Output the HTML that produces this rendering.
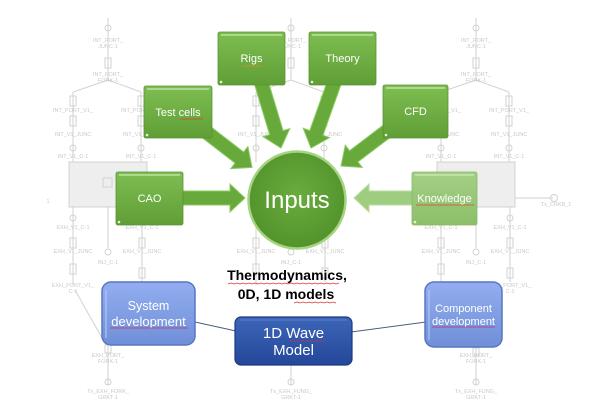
<!DOCTYPE html>
<html><head><meta charset="utf-8">
<style>
html,body{margin:0;padding:0;background:#fff;}
body{width:603px;height:413px;overflow:hidden;}
svg{display:block;}
.sch text{font-family:"Liberation Sans",sans-serif;font-size:5.5px;fill:#c9c9c9;text-anchor:middle;}
.lbl{font-family:"Liberation Sans",sans-serif;fill:#fff;text-anchor:middle;}
</style></head>
<body>
<svg width="603" height="413" viewBox="0 0 603 413" xmlns="http://www.w3.org/2000/svg">
<defs>
 <linearGradient id="gG" x1="0" y1="0" x2="0" y2="1">
  <stop offset="0" stop-color="#7dbd52"/><stop offset="1" stop-color="#5f9f35"/>
 </linearGradient>
 <linearGradient id="gK" x1="0" y1="0" x2="0" y2="1">
  <stop offset="0" stop-color="#a4cf86"/><stop offset="1" stop-color="#8cbf6a"/>
 </linearGradient>
 <linearGradient id="gB" x1="0" y1="0" x2="0" y2="1">
  <stop offset="0" stop-color="#93aef0"/><stop offset="1" stop-color="#6f8fd8"/>
 </linearGradient>
 <linearGradient id="gD" x1="0" y1="0" x2="0" y2="1">
  <stop offset="0" stop-color="#3d66b8"/><stop offset="1" stop-color="#24479a"/>
 </linearGradient>
 <radialGradient id="gC" cx="0.5" cy="0.45" r="0.55">
  <stop offset="0" stop-color="#6aac3e"/><stop offset="1" stop-color="#53922c"/>
 </radialGradient>
</defs>

<!-- background schematic: left -->
<g class="sch">
 <g stroke="#d2d2d2" fill="none" stroke-width="1">
  <line x1="108" y1="18" x2="108" y2="80"/>
  <circle cx="108" cy="28" r="3"/>
  <rect x="105" y="58" width="6" height="10"/>
  <polyline points="73,92 108,80 141,92"/>
  <line x1="73" y1="92" x2="73" y2="162"/>
  <line x1="141" y1="92" x2="141" y2="162"/>
  <rect x="70" y="96" width="6" height="10"/><rect x="70" y="116" width="6" height="10"/><circle cx="73" cy="148" r="3"/>
  <rect x="138" y="96" width="6" height="10"/><rect x="138" y="116" width="6" height="10"/><circle cx="141" cy="148" r="3"/>
  <rect x="69" y="162" width="78" height="45" fill="#eeeeee"/>
  <rect x="103" y="178" width="9" height="9"/>
  <line x1="73" y1="207" x2="73" y2="285"/>
  <circle cx="73" cy="218" r="3"/><rect x="70" y="238" width="6" height="10"/><rect x="70" y="264" width="6" height="10"/>
  <line x1="108" y1="207" x2="108" y2="248"/><circle cx="108" cy="252" r="3"/>
  <line x1="142" y1="207" x2="142" y2="282"/>
  <circle cx="142" cy="218" r="3"/><rect x="139" y="238" width="6" height="10"/><rect x="139" y="268" width="6" height="10"/>
  <line x1="75" y1="290" x2="106" y2="345"/>
  <line x1="142" y1="282" x2="110" y2="345"/>
  <line x1="108" y1="345" x2="108" y2="385"/>
  <rect x="105" y="345" width="6" height="8"/><circle cx="108" cy="382" r="3"/>
 </g>
 <text x="108" y="42">INT_PORT_</text><text x="108" y="48">JUNC-1</text>
 <text x="108" y="76">INT_PORT_</text><text x="108" y="82">FORK-1</text>
 <text x="73" y="112">INT_PORT_V1_</text><text x="141" y="112">INT_PORT_V1_</text>
 <text x="73" y="136">INT_V1_JUNC</text><text x="141" y="136">INT_V1_JUNC</text>
 <text x="73" y="158">INT_V1_C-1</text><text x="141" y="158">INT_V1_C-1</text>
 <text x="73" y="229">EXH_V1_C-1</text><text x="142" y="229">EXH_V1_C-1</text>
 <text x="73" y="253">EXH_V1_JUNC</text><text x="142" y="253">EXH_V1_JUNC</text>
 <text x="108" y="264">INJ_C-1</text>
 <text x="73" y="287">EXH_PORT_V1_</text><text x="73" y="293">C-1</text>
 <text x="108" y="357">EXH_PORT_</text><text x="108" y="363">FORK-1</text>
 <text x="108" y="393">Tx_EXH_FORK_</text><text x="108" y="399">GRKT-1</text>
 <text x="48" y="203">1</text>
</g>

<!-- background schematic: middle -->
<g class="sch" transform="translate(183,0)">
 <g stroke="#d2d2d2" fill="none" stroke-width="1">
  <line x1="108" y1="18" x2="108" y2="80"/>
  <circle cx="108" cy="28" r="3"/>
  <rect x="105" y="58" width="6" height="10"/>
  <polyline points="73,92 108,80 141,92"/>
  <line x1="73" y1="92" x2="73" y2="162"/>
  <line x1="141" y1="92" x2="141" y2="162"/>
  <rect x="70" y="96" width="6" height="10"/><rect x="70" y="116" width="6" height="10"/><circle cx="73" cy="148" r="3"/>
  <rect x="138" y="96" width="6" height="10"/><rect x="138" y="116" width="6" height="10"/><circle cx="141" cy="148" r="3"/>
  <line x1="73" y1="207" x2="73" y2="285"/>
  <circle cx="73" cy="218" r="3"/><rect x="70" y="238" width="6" height="10"/><rect x="70" y="264" width="6" height="10"/>
  <line x1="108" y1="207" x2="108" y2="248"/><circle cx="108" cy="252" r="3"/>
  <line x1="142" y1="207" x2="142" y2="282"/>
  <circle cx="142" cy="218" r="3"/><rect x="139" y="238" width="6" height="10"/><rect x="139" y="268" width="6" height="10"/>
  <line x1="108" y1="345" x2="108" y2="385"/>
  <circle cx="108" cy="382" r="3"/>
 </g>
 <text x="108" y="42">INT_PORT_</text><text x="108" y="48">JUNC-1</text>
 <text x="73" y="136">INT_V1_JUNC</text><text x="141" y="136">INT_V1_JUNC</text>
 <text x="73" y="253">EXH_V1_JUNC</text><text x="142" y="253">EXH_V1_JUNC</text>
 <text x="108" y="264">INJ_C-1</text>
 <text x="108" y="393">Tx_EXH_FUNG_</text><text x="108" y="399">GRKT-1</text>
</g>

<!-- background schematic: right -->
<g class="sch" transform="translate(368,0)">
 <g stroke="#d2d2d2" fill="none" stroke-width="1">
  <line x1="108" y1="18" x2="108" y2="80"/>
  <circle cx="108" cy="28" r="3"/>
  <rect x="105" y="58" width="6" height="10"/>
  <polyline points="73,92 108,80 141,92"/>
  <line x1="73" y1="92" x2="73" y2="162"/>
  <line x1="141" y1="92" x2="141" y2="162"/>
  <rect x="70" y="96" width="6" height="10"/><rect x="70" y="116" width="6" height="10"/><circle cx="73" cy="148" r="3"/>
  <rect x="138" y="96" width="6" height="10"/><rect x="138" y="116" width="6" height="10"/><circle cx="141" cy="148" r="3"/>
  <rect x="69" y="162" width="78" height="45" fill="#eeeeee"/>
  <line x1="147" y1="198" x2="185" y2="198"/><circle cx="186" cy="198" r="3.5"/>
  <line x1="73" y1="207" x2="73" y2="285"/>
  <circle cx="73" cy="218" r="3"/><rect x="70" y="238" width="6" height="10"/><rect x="70" y="264" width="6" height="10"/>
  <line x1="108" y1="207" x2="108" y2="248"/><circle cx="108" cy="252" r="3"/>
  <line x1="142" y1="207" x2="142" y2="282"/>
  <circle cx="142" cy="218" r="3"/><rect x="139" y="238" width="6" height="10"/><rect x="139" y="268" width="6" height="10"/>
  <line x1="108" y1="345" x2="108" y2="385"/>
  <rect x="105" y="348" width="6" height="8"/><circle cx="108" cy="382" r="3"/>
 </g>
 <text x="108" y="42">INT_PORT_</text><text x="108" y="48">JUNC-1</text>
 <text x="108" y="76">INT_PORT_</text><text x="108" y="82">FORK-1</text>
 <text x="73" y="112">INT_PORT_V1_</text><text x="141" y="112">INT_PORT_V1_</text>
 <text x="73" y="136">INT_V1_JUNC</text><text x="141" y="136">INT_V1_JUNC</text>
 <text x="73" y="158">INT_V1_C-1</text><text x="141" y="158">INT_V1_C-1</text>
 <text x="188" y="206">Tx_CRKB_1</text>
 <text x="73" y="229">EXH_V1_C-1</text><text x="142" y="229">EXH_V1_C-1</text>
 <text x="73" y="253">EXH_V1_JUNC</text><text x="142" y="253">EXH_V1_JUNC</text>
 <text x="108" y="264">INJ_C-1</text>
 <text x="142" y="287">EXH_PORT_V1_</text><text x="142" y="293">C-1</text>
 <text x="108" y="357">EXH_PORT_</text><text x="108" y="363">FORK-1</text>
 <text x="108" y="393">Tx_EXH_FUNG_</text><text x="108" y="399">GRKT-1</text>
</g>

<!-- connectors -->
<line x1="195" y1="322" x2="236" y2="331" stroke="#4a5f80" stroke-width="1"/>
<line x1="351" y1="332" x2="426" y2="322" stroke="#4a5f80" stroke-width="1"/>

<!-- block arrows -->
<g fill="#67a93b" stroke="#8ccb63" stroke-width="1">
 <polygon points="175,205 230,205 230,212 245,198 230,184 230,191 175,191"/>
 <polygon points="187.3,126.2 235.06,163.15 230.77,168.68 252,167.4 247.91,146.54 243.62,152.07 195.9,115.2"/>
 <polygon points="252.3,77 269.68,134.7 262.97,136.72 281,148 289.79,128.64 283.08,130.66 265.7,73"/>
 <polygon points="330.41,72.65 309.78,130.58 303.18,128.23 311,148 329.56,137.63 322.96,135.28 343.59,77.35"/>
 <polygon points="390.77,119.42 349.51,150.74 345.27,145.17 341,166 362.21,167.47 357.97,161.9 399.23,130.58"/>
</g>
<polygon points="420,191 369,191 369,184 354,198 369,212 369,205 420,205" fill="#9fcd80" stroke="#b9dd9f" stroke-width="1"/>

<!-- green boxes -->
<g stroke="#5a9331" stroke-width="0.8">
 <rect x="218" y="32" width="67" height="53" rx="2" fill="url(#gG)"/>
 <rect x="309" y="32" width="67" height="53" rx="2" fill="url(#gG)"/>
 <rect x="144" y="86" width="68" height="52" rx="2" fill="url(#gG)"/>
 <rect x="383" y="85" width="65" height="53" rx="2" fill="url(#gG)"/>
 <rect x="116" y="172" width="67" height="53" rx="2" fill="url(#gG)"/>
</g>
<rect x="412" y="172" width="65" height="53" rx="2" fill="url(#gK)" stroke="#88b866" stroke-width="0.8"/>
<g stroke="#d5efc2" stroke-width="1.6" opacity="0.75">
 <line x1="221" y1="35" x2="282" y2="35"/>
 <line x1="312" y1="35" x2="373" y2="35"/>
 <line x1="147" y1="89" x2="209" y2="89"/>
 <line x1="386" y1="88" x2="445" y2="88"/>
 <line x1="119" y1="175" x2="180" y2="175"/>
 <line x1="415" y1="175" x2="474" y2="175"/>
</g>
<g fill="#e8f6dc">
 <circle cx="221" cy="82" r="1.3"/><circle cx="312" cy="82" r="1.3"/><circle cx="147" cy="135" r="1.3"/>
 <circle cx="386" cy="135" r="1.3"/><circle cx="119" cy="222" r="1.3"/><circle cx="415" cy="222" r="1.3"/>
</g>
<g class="lbl" font-size="11">
 <text x="251.5" y="62">Rigs</text>
 <text x="342.5" y="62">Theory</text>
 <text x="178" y="116">Test cells</text>
 <text x="415.5" y="115">CFD</text>
 <text x="149.5" y="202">CAO</text>
 <text x="444.5" y="202">Knowledge</text>
</g>
<g stroke="#d34a2a" stroke-width="0.8" fill="none">
 <line x1="242" y1="66" x2="262" y2="66" stroke="#e08a2a"/>
 <line x1="180" y1="119" x2="203" y2="119"/>
 <line x1="416" y1="205" x2="474" y2="205"/>
</g>

<!-- Inputs circle -->
<circle cx="297" cy="200" r="48.5" fill="url(#gC)" stroke="#a3d57f" stroke-width="2.5"/>
<text class="lbl" x="297" y="208" font-size="24">Inputs</text>

<!-- Thermodynamics label -->
<g font-family="Liberation Sans, sans-serif" font-weight="bold" font-size="14" fill="#000" text-anchor="middle">
 <text x="287" y="280">Thermodynamics,</text>
 <text x="286" y="299">0D, 1D models</text>
</g>
<polyline points="228,284 231,283 234,284 237,283 240,284 243,283 246,284 249,283 252,284 255,283 258,284 261,283 264,284 267,283 270,284 273,283 276,284 279,283 282,284 285,283 288,284 291,283 294,284 297,283 300,284 303,283 306,284 309,283 312,284 315,283 318,284 321,283 324,284 327,283 330,284 333,283 336,284 339,283" fill="none" stroke="#d33" stroke-width="0.7"/>
<polyline points="294,303 297,302 300,303 303,302 306,303 309,302 312,303 315,302 318,303 321,302 324,303 327,302 330,303 333,302 336,303" fill="none" stroke="#d33" stroke-width="0.7"/>

<!-- blue boxes -->
<rect x="102" y="282" width="93" height="63" rx="9" fill="url(#gB)" stroke="#5877c0" stroke-width="1.5"/>
<line x1="106" y1="290" x2="106" y2="338" stroke="#b8cbf5" stroke-width="1.5" opacity="0.7"/>
<rect x="425" y="282" width="77" height="65" rx="9" fill="url(#gB)" stroke="#5877c0" stroke-width="1.5"/>
<line x1="429" y1="290" x2="429" y2="340" stroke="#b8cbf5" stroke-width="1.5" opacity="0.7"/>
<rect x="235" y="317" width="117" height="48" rx="6" fill="url(#gD)" stroke="#1c3a80" stroke-width="1.2"/>
<line x1="240" y1="320" x2="347" y2="320" stroke="#6e8ed0" stroke-width="1" opacity="0.6"/>

<g class="lbl">
 <text x="148.5" y="310" font-size="12.5">System</text>
 <text x="148.5" y="326" font-size="13">development</text>
 <text x="463.5" y="312" font-size="11">Component</text>
 <text x="463.5" y="325" font-size="11">development</text>
 <text x="293.5" y="338" font-size="15">1D Wave</text>
 <text x="293.5" y="355" font-size="15">Model</text>
</g>
<g stroke="#c0306a" stroke-width="0.8">
 <line x1="110" y1="328" x2="188" y2="328"/>
 <line x1="432" y1="327" x2="495" y2="327"/>
 <line x1="290" y1="341" x2="325" y2="341"/>
</g>
</svg>
</body></html>
